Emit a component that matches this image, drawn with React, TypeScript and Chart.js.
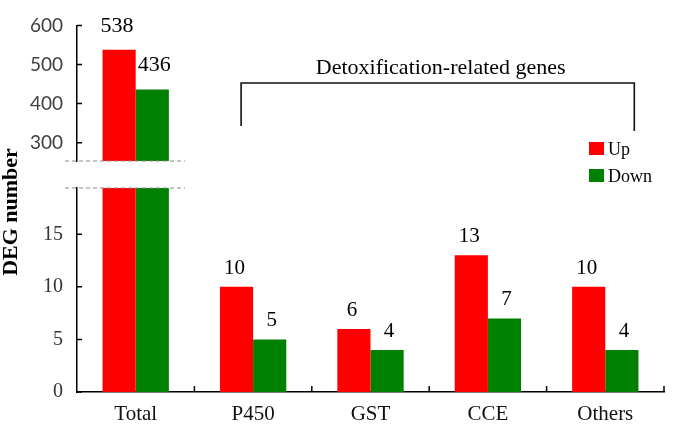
import React, { useEffect, useRef } from 'react';
import { Chart, registerables } from 'chart.js';

Chart.register(...registerables);

// ---- data ----
const categories = ['Total', 'P450', 'GST', 'CCE', 'Others'];
const seriesNames = ['Up', 'Down'];
const upValues = [538, 10, 6, 13, 10];
const downValues = [436, 5, 4, 7, 4];
const upperTicks = [300, 400, 500, 600];
const lowerTicks = [0, 5, 10, 15];
const upperRange = [253, 600];
const lowerRange = [0, 19.4];
const groupLabel = 'Detoxification-related genes';
const yTitle = 'DEG number';

// ---- style ----
const W = 673;
const H = 424;
const COLORS = ['#FF0000', '#008000'];
const SERIF = '"Liberation Serif", "Times New Roman", serif';
const AXIS_LEFT = 77;
const PAD_RIGHT = 9;
const UPPER_TOP = 13;
const UPPER_BOTTOM = 161;
const LOWER_TOP = 188;
const XAXIS_H = 32;

const inwardTicks = (drawX: boolean) => ({
  id: 'inwardTicks',
  afterDraw(chart: any) {
    const { ctx, chartArea } = chart;
    const y = chart.scales.y;
    ctx.save();
    ctx.strokeStyle = '#000';
    ctx.lineWidth = 1.5;
    ctx.beginPath();
    y.ticks.forEach((t: any) => {
      const py = y.getPixelForValue(t.value);
      ctx.moveTo(chartArea.left, py);
      ctx.lineTo(chartArea.left + 5, py);
    });
    if (drawX) {
      const x = chart.scales.x;
      const n = categories.length;
      for (let i = 0; i < n; i++) {
        const px = x.getPixelForValue(i) + (x.getPixelForValue(1) - x.getPixelForValue(0)) / 2;
        ctx.moveTo(px, chartArea.bottom);
        ctx.lineTo(px, chartArea.bottom - 6);
      }
    }
    ctx.stroke();
    ctx.restore();
  },
});

const valueLabels = (gap: number, size: number) => ({
  id: 'valueLabels',
  afterDatasetsDraw(chart: any) {
    const { ctx, chartArea } = chart;
    ctx.save();
    ctx.font = `${size}px ${SERIF}`;
    ctx.fillStyle = '#000';
    ctx.textAlign = 'center';
    ctx.textBaseline = 'alphabetic';
    chart.data.datasets.forEach((ds: any, di: number) => {
      const meta = chart.getDatasetMeta(di);
      meta.data.forEach((bar: any, i: number) => {
        const v = ds.data[i];
        if (v == null) return;
        if (bar.y < chartArea.top - 0.5) return;
        ctx.fillText(String(v), bar.x + (di === 1 ? 2 : -2), bar.y - gap);
      });
    });
    ctx.restore();
  },
});

const breakLine = (atTop: boolean) => ({
  id: 'breakLine',
  afterDraw(chart: any) {
    const { ctx, chartArea } = chart;
    const yy = atTop ? chartArea.top : chartArea.bottom;
    ctx.save();
    ctx.strokeStyle = '#8a8a8a';
    ctx.lineWidth = 1;
    ctx.setLineDash([4, 3]);
    ctx.beginPath();
    ctx.moveTo(chartArea.left - 12, yy);
    ctx.lineTo(chartArea.left + 108, yy);
    ctx.stroke();
    ctx.restore();
  },
});

const annotations = {
  id: 'annotations',
  afterDraw(chart: any) {
    const { ctx } = chart;
    const x = chart.scales.x;
    ctx.save();
    // bracket
    const bl = x.getPixelForValue(1) - 12;
    const br = x.getPixelForValue(4) + 29;
    const by = 83;
    ctx.strokeStyle = '#111';
    ctx.lineWidth = 1.6;
    ctx.beginPath();
    ctx.moveTo(bl, 126);
    ctx.lineTo(bl, by);
    ctx.lineTo(br, by);
    ctx.lineTo(br, 131);
    ctx.stroke();
    ctx.fillStyle = '#000';
    ctx.font = `22px ${SERIF}`;
    ctx.textAlign = 'center';
    ctx.textBaseline = 'alphabetic';
    ctx.fillText(groupLabel, (bl + br) / 2 + 3, 74);
    // legend
    ctx.font = `18px ${SERIF}`;
    ctx.textAlign = 'left';
    seriesNames.forEach((name, i) => {
      const ty = 142 + i * 27;
      ctx.fillStyle = COLORS[i];
      ctx.fillRect(589, ty, 15, 13);
      ctx.fillStyle = '#000';
      ctx.fillText(name, 608, ty + 13);
    });
    // y title
    ctx.translate(11, 212);
    ctx.rotate(-Math.PI / 2);
    ctx.font = `bold 22px ${SERIF}`;
    ctx.textAlign = 'center';
    ctx.textBaseline = 'middle';
    ctx.fillText(yTitle, 0, 0);
    ctx.restore();
  },
};

function App() {
  const upperRef = useRef<HTMLCanvasElement>(null);
  const lowerRef = useRef<HTMLCanvasElement>(null);

  useEffect(() => {
    const upperData = [upValues, downValues].map((vals) =>
      vals.map((v) => (v > lowerRange[1] ? v : null))
    );

    const upper = new Chart(upperRef.current as HTMLCanvasElement, {
      type: 'bar',
      data: {
        labels: categories,
        datasets: seriesNames.map((name, i) => ({
          label: name,
          data: upperData[i],
          backgroundColor: COLORS[i],
          borderWidth: 0,
          barPercentage: 1,
          categoryPercentage: 0.565,
        })),
      },
      options: {
        responsive: false,
        animation: false,
        devicePixelRatio: 1,
        events: [],
        layout: { padding: { left: 0, right: PAD_RIGHT, top: UPPER_TOP, bottom: H - UPPER_BOTTOM } },
        plugins: { legend: { display: false }, tooltip: { enabled: false } },
        scales: {
          x: { display: false, offset: true },
          y: {
            min: upperRange[0],
            max: upperRange[1],
            afterBuildTicks: (s: any) => {
              s.ticks = upperTicks.map((v) => ({ value: v }));
            },
            afterFit: (s: any) => {
              s.width = AXIS_LEFT;
            },
            grid: { display: false, drawTicks: false },
            border: { display: true, color: '#000', width: 1.5 },
            ticks: { padding: 14, color: '#404040', font: { family: 'Lato', size: 19 } },
          },
        },
      } as any,
      plugins: [inwardTicks(false), valueLabels(18, 22), breakLine(false)],
    });

    const lower = new Chart(lowerRef.current as HTMLCanvasElement, {
      type: 'bar',
      data: {
        labels: categories,
        datasets: seriesNames.map((name, i) => ({
          label: name,
          data: i === 0 ? upValues : downValues,
          backgroundColor: COLORS[i],
          borderWidth: 0,
          barPercentage: 1,
          categoryPercentage: 0.565,
        })),
      },
      options: {
        responsive: false,
        animation: false,
        devicePixelRatio: 1,
        events: [],
        layout: { padding: { left: 0, right: PAD_RIGHT, top: LOWER_TOP, bottom: 0 } },
        plugins: { legend: { display: false }, tooltip: { enabled: false } },
        scales: {
          x: {
            offset: true,
            afterFit: (s: any) => {
              s.height = XAXIS_H;
            },
            grid: { display: false, drawTicks: false, offset: true },
            border: { display: true, color: '#000', width: 1.5 },
            ticks: { padding: 10, color: '#111', font: { family: 'Liberation Serif', size: 21 } },
          },
          y: {
            min: lowerRange[0],
            max: lowerRange[1],
            afterBuildTicks: (s: any) => {
              s.ticks = lowerTicks.map((v) => ({ value: v }));
            },
            afterFit: (s: any) => {
              s.width = AXIS_LEFT;
            },
            grid: { display: false, drawTicks: false },
            border: { display: true, color: '#000', width: 1.5 },
            ticks: { padding: 14, color: '#333', font: { family: 'Liberation Serif', size: 20 } },
          },
        },
      } as any,
      plugins: [inwardTicks(true), valueLabels(13, 21), breakLine(true), annotations],
    });

    return () => {
      upper.destroy();
      lower.destroy();
    };
  }, []);

  const canvasStyle: React.CSSProperties = { position: 'absolute', left: 0, top: 0, width: W, height: H };
  return (
    <div style={{ position: 'fixed', left: 0, top: 0, width: W, height: H, background: '#fff' }}>
      <canvas ref={lowerRef} width={W} height={H} style={canvasStyle} />
      <canvas ref={upperRef} width={W} height={H} style={canvasStyle} />
    </div>
  );
}

export default App;
